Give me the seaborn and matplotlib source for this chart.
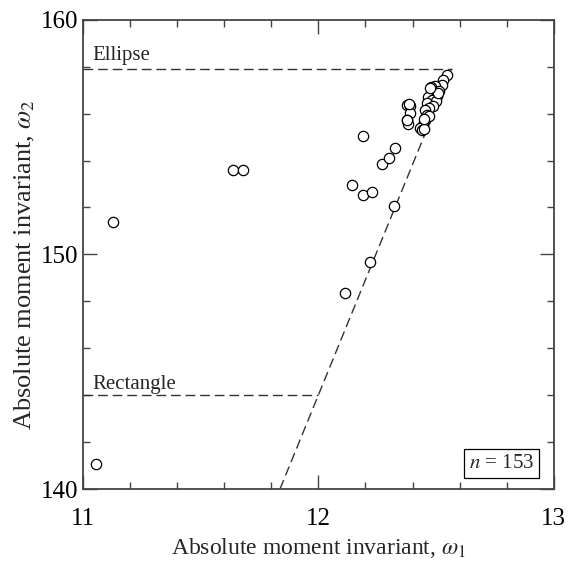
import numpy as np
import pandas as pd
import matplotlib
matplotlib.use("Agg")
import matplotlib.pyplot as plt
import seaborn as sns

# ---- data ----
omega1 = [11.054, 11.129, 11.638, 11.681, 12.113, 12.220, 12.144, 12.191, 12.228,
          12.188, 12.272, 12.300, 12.327, 12.320,
          12.375, 12.389, 12.389, 12.375, 12.379, 12.385, 12.378,
          12.545, 12.528, 12.524, 12.496, 12.477, 12.514, 12.488, 12.505, 12.467,
          12.481, 12.500, 12.460, 12.486, 12.471, 12.453, 12.460, 12.453, 12.446,
          12.432, 12.439, 12.449, 12.471, 12.510, 12.474, 12.449]
omega2 = [141.08, 151.40, 153.60, 153.60, 148.35, 149.66, 152.98, 152.54, 152.67,
          155.06, 153.85, 154.09, 154.55, 152.08,
          156.38, 156.31, 156.03, 155.71, 155.57, 156.41, 155.74,
          157.66, 157.42, 157.23, 157.19, 157.14, 156.95, 156.88, 156.76, 156.73,
          156.59, 156.52, 156.45, 156.34, 156.24, 156.17, 155.95, 155.74, 155.53,
          155.39, 155.32, 155.36, 155.91, 156.88, 157.11, 155.77]

# reference shapes
ellipse_w1, ellipse_w2 = 12.566, 157.91
rect_w1, rect_w2 = 12.0, 144.0
boundary_w1 = [11.837, 12.566]
boundary_w2 = [140.0, 157.91]
n_label = "153"

df = pd.DataFrame({"w1": omega1, "w2": omega2})

sns.set_theme(style="ticks")
plt.rcParams["font.family"] = ["Liberation Serif", "DejaVu Serif"]
plt.rcParams["mathtext.fontset"] = "stix"

fig = plt.figure(figsize=(5.68, 5.66), dpi=100)
ax = fig.add_axes([0.146, 0.136, 0.829, 0.829])

dash = (0, (7, 3.5))
lc = "#333333"
ax.plot([11, ellipse_w1], [ellipse_w2, ellipse_w2], ls=dash, color=lc, lw=1.0)
ax.plot([11, rect_w1], [rect_w2, rect_w2], ls=dash, color=lc, lw=1.0)
ax.plot(boundary_w1, boundary_w2, ls=dash, color=lc, lw=1.0)

sns.scatterplot(data=df, x="w1", y="w2", ax=ax, s=55, facecolor="white",
                edgecolor="black", linewidth=0.9, zorder=3, legend=False)

ax.set_xlim(11, 13)
ax.set_ylim(140, 160)
ax.set_xticks([11, 12, 13])
ax.set_yticks([140, 150, 160])
ax.set_xticks(np.arange(11, 13.001, 0.2), minor=True)
ax.set_yticks(np.arange(140, 160.001, 2), minor=True)
ax.tick_params(which="both", direction="in", top=True, right=True,
               labelsize=18, colors="#444444", labelcolor="black", width=1.0)
ax.tick_params(axis="x", which="major", pad=14)
ax.tick_params(axis="y", which="major", pad=3)
ax.tick_params(which="major", length=10)
ax.tick_params(which="minor", length=5)
for sp in ax.spines.values():
    sp.set_color("#444444")
    sp.set_linewidth(1.3)

ax.set_xlabel(r"Absolute moment invariant, $\omega_1$", fontsize=17, labelpad=4)
ax.set_ylabel(r"Absolute moment invariant, $\omega_2$", fontsize=19, labelpad=4)
ax.yaxis.set_label_coords(-0.097, 0.478)

ax.text(11.04, 158.3, "Ellipse", fontsize=15, ha="left", va="baseline")
ax.text(11.04, 144.28, "Rectangle", fontsize=15, ha="left", va="baseline")
ax.text(0.889, 0.055, r"$n$ = " + n_label, transform=ax.transAxes, fontsize=15,
        ha="center", va="center",
        bbox=dict(boxstyle="square,pad=0.25", facecolor="white", edgecolor="black", lw=0.9))

fig.savefig("out.png", dpi=100)
